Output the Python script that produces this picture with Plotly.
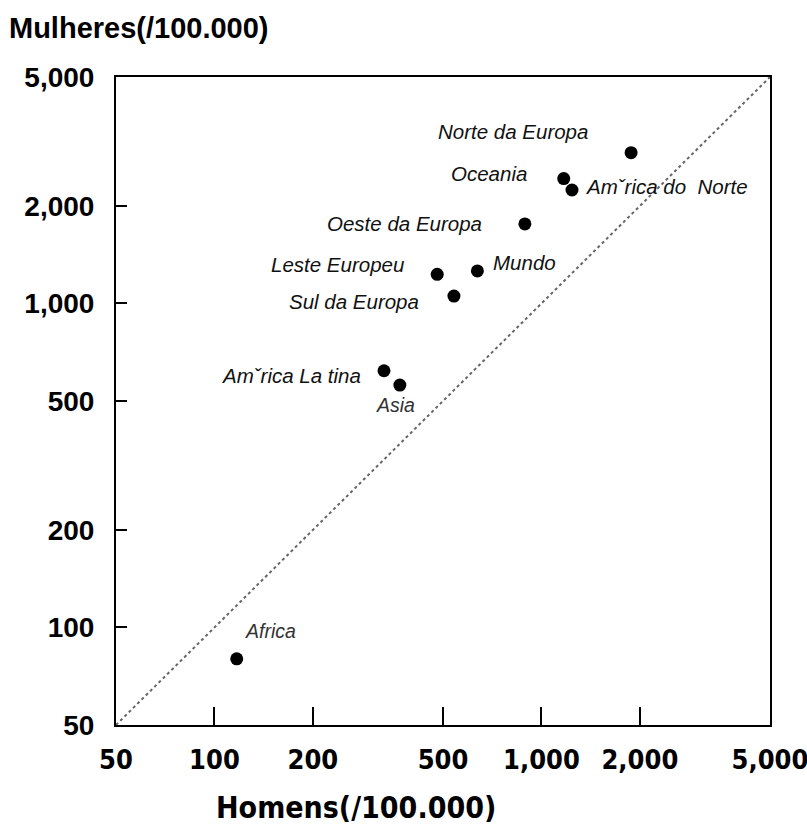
import math
import plotly.graph_objects as go

# Incidence per 100,000: men (x) vs women (y), by region
regions = [
    "Norte da Europa",
    "Oceania",
    "Am\u02c7rica do\u00a0 Norte",
    "Oeste da Europa",
    "Mundo",
    "Leste Europeu",
    "Sul da Europa",
    "Am\u02c7rica La tina",
    "Asia",
    "Africa",
]
homens = [1880, 1170, 1240, 890, 637, 480, 540, 330, 369, 117]
mulheres = [2920, 2430, 2240, 1760, 1260, 1230, 1054, 620, 560, 80]

# Label placement relative to each point (pixels: right, up)
label_dx = [-118, -75, 95, -120, 47, -100, -100, -93, -4, 34]
label_dy = [21, 5, 3, 0, 8, 10, -5, -5, -20, 28]

tick_vals = [50, 100, 200, 500, 1000, 2000, 5000]
tick_text = ["50", "100", "200", "500", "1,000", "2,000", "5,000"]
axis_min, axis_max = 50, 5000

fig = go.Figure()

# Equality line (women = men)
fig.add_trace(go.Scatter(
    x=[axis_min, axis_max], y=[axis_min, axis_max],
    mode="lines",
    line=dict(color="#666666", width=2, dash="dot"),
    hoverinfo="skip", showlegend=False,
))

fig.add_trace(go.Scatter(
    x=homens, y=mulheres, mode="markers",
    marker=dict(color="black", size=13),
    text=regions, hoverinfo="text", showlegend=False,
))

label_font = dict(family="Liberation Sans, Arial, sans-serif", size=20.5, color="#111111", style="italic")
for name, hx, my, dx, dy in zip(regions, homens, mulheres, label_dx, label_dy):
    font = dict(label_font)
    if name in ("Asia", "Africa"):
        font["color"] = "#333333"
        font["size"] = 19.5
    fig.add_annotation(
        x=math.log10(hx), y=math.log10(my), xref="x", yref="y",
        text=name, showarrow=False, xanchor="center", yanchor="middle",
        xshift=dx, yshift=dy, font=font,
    )

axis_common = dict(
    type="log",
    range=[math.log10(axis_min), math.log10(axis_max)],
    tickvals=tick_vals, ticktext=tick_text,
    showline=True, linecolor="black", linewidth=2, mirror=True,
    ticks="inside", tickcolor="black", tickwidth=2,
    showgrid=False, zeroline=False, automargin=False,
)

fig.update_xaxes(
    **axis_common, ticklen=18, ticklabelstandoff=10, ticklabeloverflow="allow",
    tickfont=dict(family="Liberation Sans Narrow, DejaVu Sans Condensed, Arial Narrow, sans-serif",
                  size=27, color="black", weight="bold"),
)
fig.update_yaxes(
    **axis_common, ticklen=11, ticklabelstandoff=14,
    tickfont=dict(family="Liberation Sans, Arial, sans-serif", size=28, color="black", weight="bold"),
)

# Axis titles
fig.add_annotation(
    text="Mulheres(/100.000)", xref="paper", yref="paper",
    x=-0.166, y=1.075, xanchor="left", yanchor="middle", showarrow=False,
    font=dict(family="Liberation Sans, Arial, sans-serif", size=29, color="black", weight="bold"),
)
fig.add_annotation(
    text="Homens(/100.000)", xref="paper", yref="paper",
    x=0.367, y=-0.128, xanchor="center", yanchor="middle", showarrow=False,
    font=dict(family="Liberation Sans Narrow, DejaVu Sans Condensed, Arial Narrow, sans-serif",
              size=30, color="black", weight="bold"),
)

fig.update_layout(
    width=807, height=825,
    margin=dict(l=116, r=37, t=77, b=100, autoexpand=False),
    paper_bgcolor="white", plot_bgcolor="white",
)

fig.write_html("out.html")
